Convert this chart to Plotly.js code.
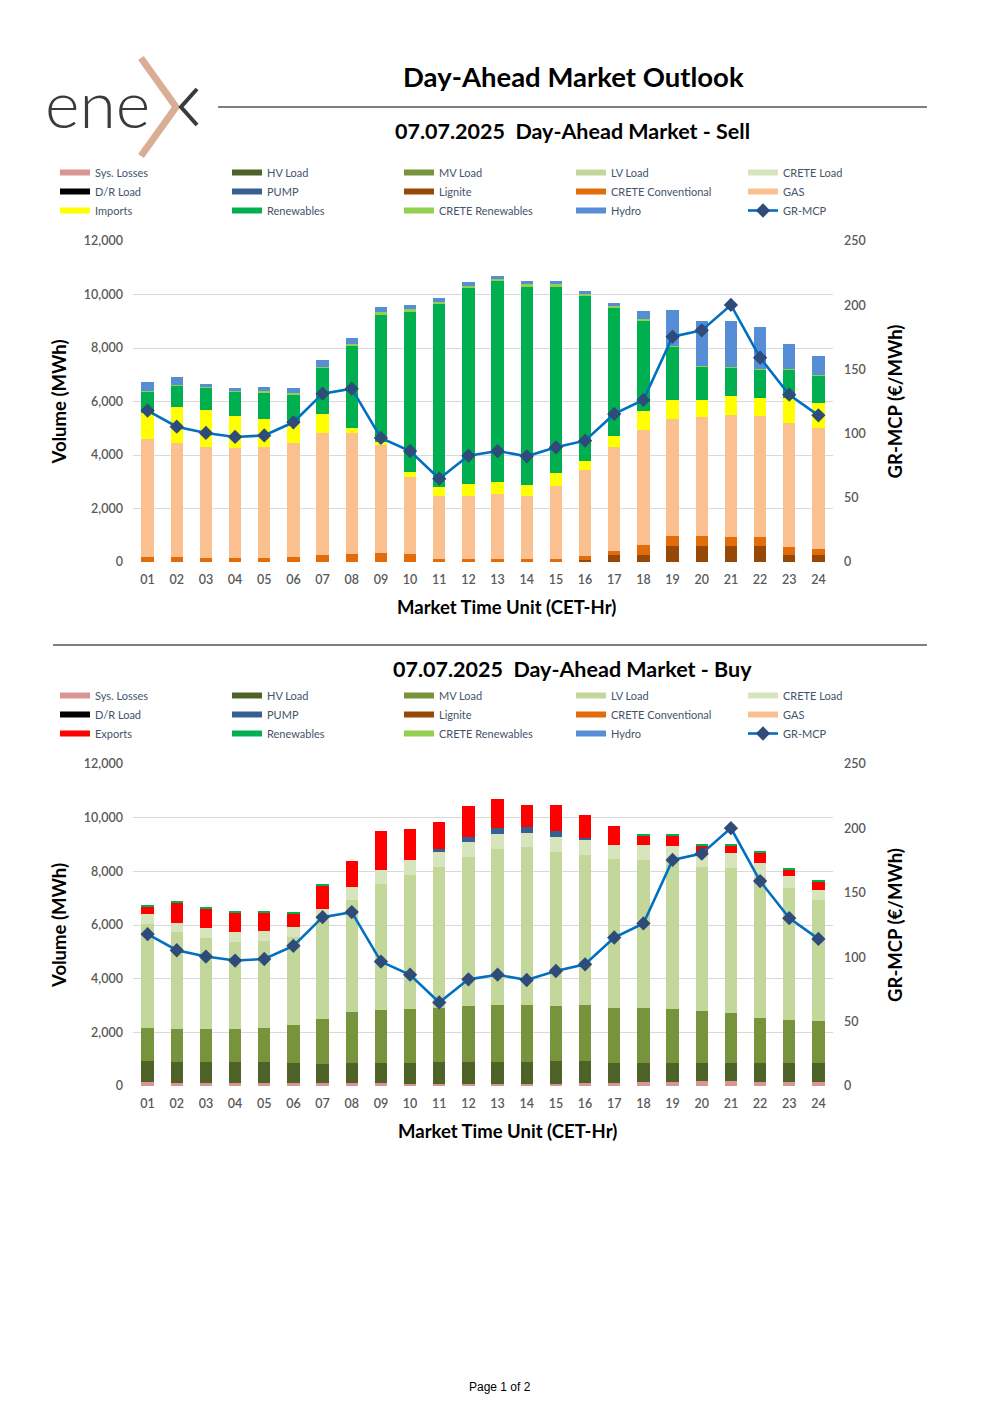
<!DOCTYPE html>
<html><head><meta charset="utf-8">
<script src="https://cdn.plot.ly/plotly-3.0.1.min.js"></script>
<style>html,body{margin:0;padding:0;background:#fff;}#chart{width:1000px;height:1415px;}</style>
</head><body><div id="chart"></div>
<script>
// ---------- DATA ----------
const hours = ['01','02','03','04','05','06','07','08','09','10','11','12','13','14','15','16','17','18','19','20','21','22','23','24'];
const mcp = [117.9,105.4,100.5,97.4,98.6,108.8,131.1,135.0,96.6,86.4,64.9,82.8,86.4,82.3,89.3,94.5,115.3,126.2,175.5,180.4,200.2,159.1,130.3,114.2];

// Sell side (MWh)
const sellLignite   = [0,0,0,0,0,0,0,0,0,0,0,0,0,0,0,80,275,275,600,600,600,600,275,275];
const sellCreteConv = [200,175,150,160,160,180,250,300,325,310,100,100,100,100,100,130,125,360,360,360,350,320,275,225];
const sellGas       = [4390,4275,4150,4115,4140,4280,4585,4535,4035,2870,2380,2380,2440,2380,2730,3240,3900,4310,4400,4450,4530,4550,4635,4510];
const sellImports   = [990,1350,1370,1185,1060,730,685,165,140,185,335,425,440,385,510,340,400,685,685,645,715,650,945,945];
const sellRenew     = [790,800,850,895,985,1080,1745,3110,4770,6015,6840,7360,7535,7450,6975,6165,4820,3405,2015,1260,1070,1060,1060,1000];
const sellCreteRen  = [30,30,30,30,30,30,30,30,60,60,70,70,70,70,70,60,50,40,30,30,30,30,30,30];
const sellHydro     = [320,270,120,135,165,190,270,245,215,165,145,120,120,105,120,115,125,295,1315,1665,1700,1560,915,705];

// Buy side (MWh)
const buySysLoss  = [137,125,110,110,110,110,110,110,100,90,85,85,85,85,90,100,110,137,161,170,170,161,161,150];
const buyHV       = [795,782,784,772,772,760,698,760,745,780,809,809,809,809,828,832,747,733,696,687,687,696,684,707];
const buyMV       = [1230,1230,1218,1230,1280,1416,1689,1901,2000,1987,2001,2100,2125,2125,2076,2087,2050,2025,2025,1951,1851,1690,1615,1566];
const buyLV       = [3876,3603,3417,3268,3242,3280,3703,4161,4671,5007,5267,5541,5814,5876,5739,5603,5542,5528,5538,5366,5429,5255,4932,4509];
const buyCreteLd  = [373,348,347,347,360,372,397,497,534,547,559,546,547,547,547,534,545,571,525,522,534,509,435,373];
const buyPump     = [0,0,0,0,0,0,0,0,0,0,99,212,223,224,211,99,0,0,0,0,0,0,0,0];
const buyExports  = [260,745,733,733,720,497,883,944,1466,1155,1007,1130,1081,807,994,857,696,335,397,262,286,385,248,323];
const buyRenew    = [40,45,35,35,20,20,48,0,0,0,0,0,0,0,0,0,0,37,50,50,33,44,40,37];

const sellLegend = ['Sys. Losses','HV Load','MV Load','LV Load','CRETE Load','D/R Load','PUMP','Lignite','CRETE Conventional','GAS','Imports','Renewables','CRETE Renewables','Hydro'];
const buyLegend  = ['Sys. Losses','HV Load','MV Load','LV Load','CRETE Load','D/R Load','PUMP','Lignite','CRETE Conventional','GAS','Exports','Renewables','CRETE Renewables','Hydro'];

const colors = {
  'Sys. Losses':'#da9694','HV Load':'#4f6228','MV Load':'#77933c','LV Load':'#c4d79b','CRETE Load':'#d8e4bc',
  'D/R Load':'#000000','PUMP':'#366092','Lignite':'#974706','CRETE Conventional':'#e26b0a','GAS':'#fac090',
  'Imports':'#ffff00','Exports':'#ff0000','Renewables':'#00b050','CRETE Renewables':'#92d050','Hydro':'#558ed5'
};

// ---------- GEOMETRY ----------
const W=1000,H=1415,ML=55,MR=70,GW=W-ML-MR;
const px = x => (x-ML)/GW;
const py = y => 1 - y/H;

const traces = [];
function bars(name, y, xa, ya){
  traces.push({type:'bar', name:name, x:hours, y:y, xaxis:xa, yaxis:ya, showlegend:false,
    marker:{color:colors[name], line:{width:0}}, hoverinfo:'x+y+name'});
}
// sell stack (bottom -> top)
bars('Lignite', sellLignite, 'x','y');
bars('CRETE Conventional', sellCreteConv, 'x','y');
bars('GAS', sellGas, 'x','y');
bars('Imports', sellImports, 'x','y');
bars('Renewables', sellRenew, 'x','y');
bars('CRETE Renewables', sellCreteRen, 'x','y');
bars('Hydro', sellHydro, 'x','y');
// buy stack
bars('Sys. Losses', buySysLoss, 'x2','y3');
bars('HV Load', buyHV, 'x2','y3');
bars('MV Load', buyMV, 'x2','y3');
bars('LV Load', buyLV, 'x2','y3');
bars('CRETE Load', buyCreteLd, 'x2','y3');
bars('PUMP', buyPump, 'x2','y3');
bars('Exports', buyExports, 'x2','y3');
bars('Renewables', buyRenew, 'x2','y3');

function mcpTrace(xa, ya, leg){
  return {type:'scatter', mode:'lines+markers', name:'GR-MCP', x:hours, y:mcp, xaxis:xa, yaxis:ya,
    legend:leg, legendrank:100, line:{color:'#0070c0', width:2.6},
    marker:{symbol:'diamond', size:11, color:'#2e4b7a'}};
}
traces.push(mcpTrace('x','y2','legend'));
traces.push(mcpTrace('x2','y4','legend2'));

// legend swatches
function legendEntries(list, leg, xa, ya){
  list.forEach((n,i)=>{
    traces.push({type:'scatter', mode:'lines', name:n, x:[null], y:[null], xaxis:xa, yaxis:ya,
      legend:leg, legendrank:i+1, line:{color:colors[n], width:6}, hoverinfo:'skip'});
  });
}
legendEntries(sellLegend,'legend','x','y');
legendEntries(buyLegend,'legend2','x2','y3');

const tickFont = {family:'Lato, sans-serif', size:12.5, color:'#595959', weight:600};
const axTitleFont = {family:'Lato, sans-serif', size:18.5, color:'#000000', weight:'bold'};
const xDom = [px(133), px(833)];

function xAxis(anchor){
  return {domain:xDom, anchor:anchor, type:'category', range:[-0.5,23.5], showgrid:false, zeroline:false, showline:false,
    ticks:'', tickfont:tickFont, ticklabelstandoff:8, automargin:false, fixedrange:true};
}
function yLeft(dom, anchor){
  return {domain:dom, anchor:anchor, range:[0,12000], dtick:2000, tickformat:',d', showgrid:true,
    gridcolor:'#d9d9d9', gridwidth:1, zeroline:false, showline:false, ticks:'', tickfont:tickFont,
    ticklabelstandoff:9, automargin:false, fixedrange:true,
    title:{text:'Volume (MWh)', font:axTitleFont, standoff:12}};
}
function yRight(over, anchor){
  return {overlaying:over, side:'right', anchor:anchor, range:[0,250], dtick:50, showgrid:false,
    zeroline:false, showline:false, ticks:'', tickfont:tickFont, ticklabelstandoff:10,
    automargin:false, fixedrange:true,
    title:{text:'GR-MCP (€/MWh)', font:axTitleFont, standoff:24}};
}
function legendCfg(topPx){
  return {orientation:'h', x:0, xanchor:'left', y:py(topPx), yanchor:'top',
    entrywidth:127, entrywidthmode:'pixels', itemwidth:30, traceorder:'normal',
    bgcolor:'rgba(0,0,0,0)', borderwidth:0,
    font:{family:'Lato, sans-serif', size:11, color:'#44546a'}};
}

const titleFont = {family:'Lato, sans-serif', size:27.5, color:'#000', weight:'bold'};
const subFont = {family:'Lato, sans-serif', size:21.5, color:'#000', weight:'bold'};

function ann(text, x, y, font, xanchor){
  return {text:text, x:px(x), y:py(y), xref:'paper', yref:'paper', xanchor:xanchor||'center', yanchor:'middle', showarrow:false, font:font};
}

const layout = {
  width:W, height:H, margin:{l:ML, r:MR, t:0, b:0, pad:0},
  paper_bgcolor:'#ffffff', plot_bgcolor:'#ffffff',
  barmode:'stack', bargap:0.58, showlegend:true, hovermode:'closest',
  font:{family:'Lato, sans-serif', color:'#595959'},
  xaxis:xAxis('y'), yaxis:yLeft([py(562),py(241)],'x'), yaxis2:yRight('y','x'),
  xaxis2:xAxis('y3'), yaxis3:yLeft([py(1086),py(764)],'x2'), yaxis4:yRight('y3','x2'),
  legend:legendCfg(158), legend2:legendCfg(681),
  annotations:[
    ann('Day-Ahead Market Outlook', 573, 76, titleFont),
    ann('07.07.2025\u00a0\u00a0Day-Ahead Market - Sell', 572, 131, subFont),
    ann('07.07.2025\u00a0\u00a0Day-Ahead Market - Buy', 572, 669, subFont),
    ann('Market Time Unit (CET-Hr)', 506, 607, axTitleFont),
    ann('Market Time Unit (CET-Hr)', 507, 1131, axTitleFont),
    ann('Page 1 of 2', 500, 1387, {family:'Liberation Sans, Arial, sans-serif', size:12, color:'#000'}),
    ann('ene', 43, 103, {family:'Lato, sans-serif', size:66, color:'#3a3a3a', weight:300}, 'left')
  ],
  shapes:[
    {type:'line', xref:'paper', yref:'paper', x0:px(218), x1:px(927), y0:py(107), y1:py(107), line:{color:'#000', width:1.2}},
    {type:'line', xref:'paper', yref:'paper', x0:px(53), x1:px(927), y0:py(645), y1:py(645), line:{color:'#000', width:1.2}},
    {type:'path', xref:'paper', yref:'paper', path:'M'+px(141)+','+py(58)+' L'+px(176)+','+py(107)+' L'+px(141)+','+py(156), line:{color:'#d9ae94', width:7}},
    {type:'path', xref:'paper', yref:'paper', path:'M'+px(197)+','+py(89)+' L'+px(181)+','+py(107)+' L'+px(197)+','+py(125), line:{color:'#3a3a3a', width:4}}
  ]
};

Plotly.newPlot('chart', traces, layout, {displayModeBar:false, responsive:false});
</script></body></html>
